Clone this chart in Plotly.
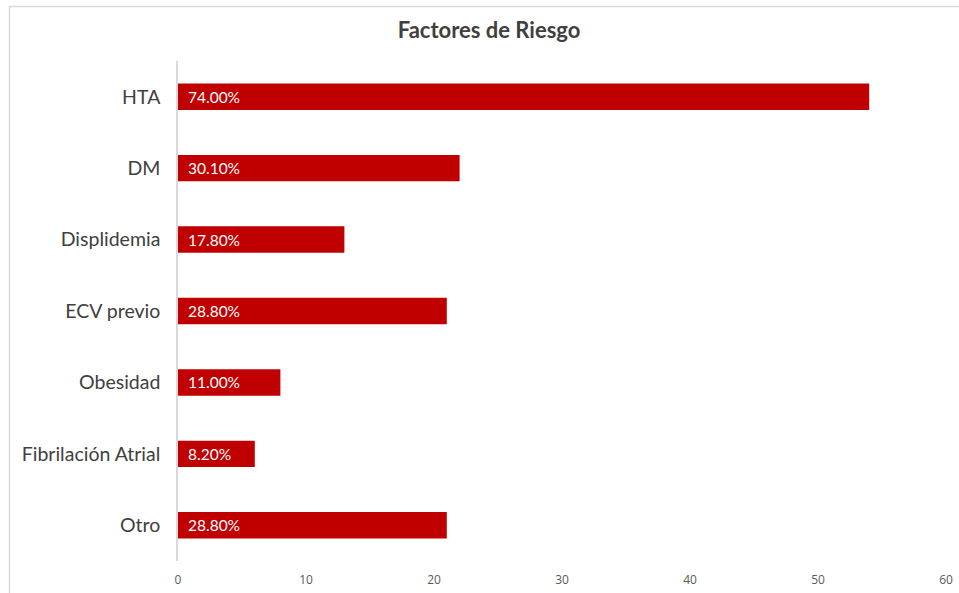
import plotly.graph_objects as go

# Risk factors: patient counts out of the total cohort
categories = ["HTA", "DM", "Displidemia", "ECV previo", "Obesidad", "Fibrilación Atrial", "Otro"]
counts = [54, 22, 13, 21, 8, 6, 21]
total_patients = 73
x_ticks = [0, 10, 20, 30, 40, 50, 60]

# Share of patients, rounded to one decimal as in the source table
shares = [round(c / total_patients * 100, 1) for c in counts]
labels = [f"{s:.2f}%" for s in shares]

L, R, T, B = 178, 13, 61, 32
W, H = 959, 593
pw, ph = W - L - R, H - T - B

fig = go.Figure(
    go.Bar(
        x=counts,
        y=categories,
        orientation="h",
        marker=dict(color="#C00000", line=dict(width=0)),
        width=0.37,
        hoverinfo="x+y",
    )
)

# Percentage labels inside the bars, near the base
for cat, lab in zip(categories, labels):
    fig.add_annotation(
        x=0, y=cat, text=lab, showarrow=False,
        xanchor="left", xshift=8,
        font=dict(family="Lato, Open Sans, sans-serif", size=15.5, color="white"),
    )

# Chart border
fig.add_shape(
    type="rect", xref="paper", yref="paper",
    x0=(9.5 - L) / pw, x1=(W + 20 - L) / pw,
    y0=-(B + 20) / ph, y1=(H - B - 6.5) / ph,
    line=dict(color="#D9D9D9", width=1.5), fillcolor="rgba(0,0,0,0)", layer="below",
)

fig.update_layout(
    width=W, height=H,
    margin=dict(l=L, r=R, t=T, b=B, autoexpand=False),
    paper_bgcolor="white", plot_bgcolor="white",
    showlegend=False,
    title=dict(
        text="<b>Factores de Riesgo</b>",
        x=489 / W, xanchor="center", y=1 - 30 / H, yanchor="middle",
        font=dict(family="Lato, Open Sans, sans-serif", size=22, color="#404040"),
    ),
    xaxis=dict(
        range=[0, 60], tickvals=x_ticks, showgrid=False, zeroline=False,
        showline=False, ticks="outside", ticklen=8, tickcolor="rgba(0,0,0,0)",
        tickfont=dict(family="Open Sans, sans-serif", size=12, color="#595959"),
        automargin=False, fixedrange=True,
    ),
    yaxis=dict(
        categoryorder="array", categoryarray=categories[::-1],
        showgrid=False, zeroline=False, showline=True,
        linecolor="#D9D9D9", linewidth=1.5, ticks="",
        ticklabelstandoff=12,
        tickfont=dict(family="Lato, Open Sans, sans-serif", size=19.5, color="#404040"),
        automargin=False, fixedrange=True,
    ),
)

fig.write_html("out.html")
